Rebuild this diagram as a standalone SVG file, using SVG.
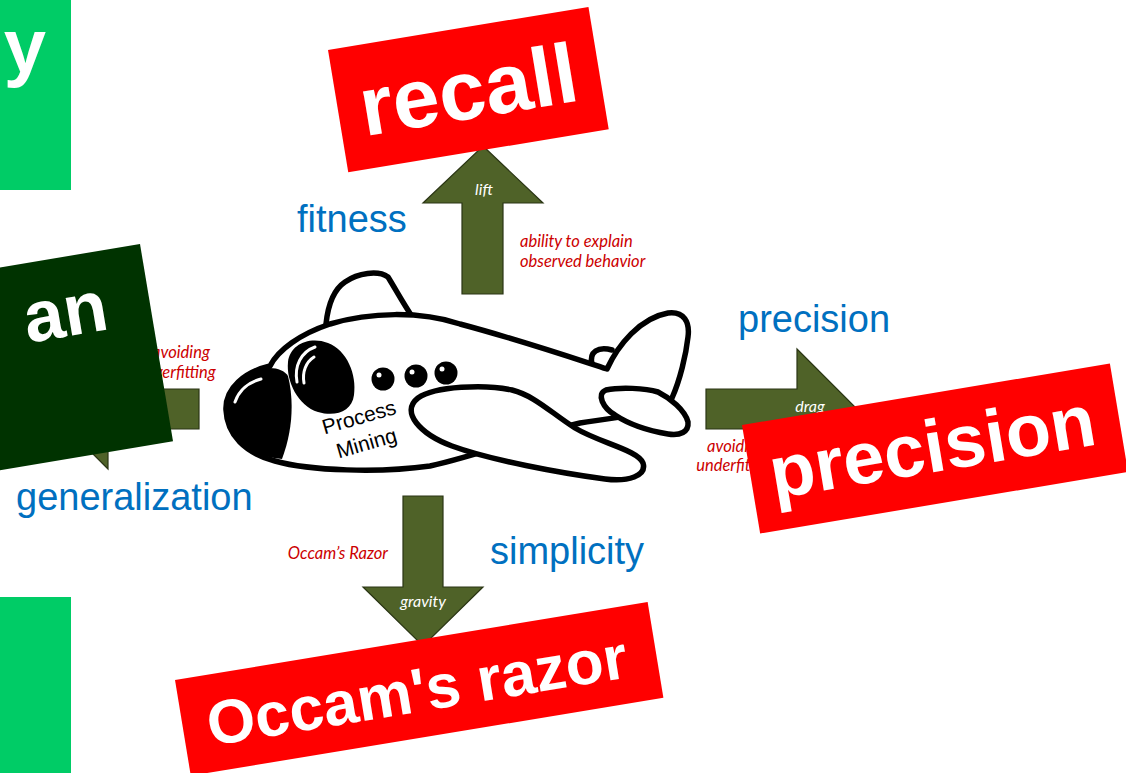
<svg xmlns="http://www.w3.org/2000/svg" width="1126" height="773" viewBox="0 0 1126 773">
  <style>
    .arrow { fill: #4F6228; stroke: #2A3514; stroke-width: 1.2; }
    .force { font-family: Lato, "Open Sans", sans-serif; font-style: italic; font-size: 16px; fill: #FFFFFF; text-anchor: middle; }
    .note { font-family: Lato, "Open Sans", sans-serif; font-style: italic; font-size: 16.5px; fill: #CC0000; }
    .dim { font-family: "Liberation Sans", Arial, sans-serif; font-size: 38px; fill: #0070C0; }
    .big { font-family: "Liberation Sans", Arial, sans-serif; font-weight: bold; fill: #FFFFFF; }
    .ink { stroke: #000000; stroke-width: 5.5; stroke-linejoin: round; stroke-linecap: round; }
    .shine { fill: none; stroke: #FFFFFF; stroke-width: 3; stroke-linecap: round; }
  </style>

  <rect width="1126" height="773" fill="#FFFFFF"/>

  <!-- force arrows around the plane -->
  <g id="connectors">
    <g id="lift">
      <polygon class="arrow" points="483,146 543,203 503,203 503,294 462,294 462,203 423,203"/>
      <text class="force" x="484" y="195">lift</text>
    </g>
    <g id="drag">
      <polygon class="arrow" points="706,389 797,389 797,349 857,409 797,469 797,429 706,429"/>
      <text class="force" x="810" y="412">drag</text>
    </g>
    <g id="thrust">
      <polygon class="arrow" points="199,389 108,389 108,349 48,409 108,469 108,429 199,429"/>
    </g>
    <g id="gravity">
      <polygon class="arrow" points="403,496 443,496 443,587 483,587 423,646 363,587 403,587"/>
      <text class="force" x="423" y="607">gravity</text>
    </g>
  </g>

  <!-- explanations next to the arrows -->
  <g id="notes">
    <text class="note" x="520" y="247">ability to explain</text>
    <text class="note" x="520" y="267">observed behavior</text>
    <text class="note" x="181" y="358" text-anchor="middle">avoiding</text>
    <text class="note" x="181" y="378" text-anchor="middle">overfitting</text>
    <text class="note" x="736" y="452" text-anchor="middle">avoiding</text>
    <text class="note" x="736" y="471" text-anchor="middle">underfitting</text>
    <text class="note" x="388" y="559" text-anchor="end">Occam’s Razor</text>
  </g>

  <!-- quality dimensions -->
  <g id="dimensions">
    <text class="dim" x="297" y="232">fitness</text>
    <text class="dim" x="738" y="332">precision</text>
    <text class="dim" x="16" y="510">generalization</text>
    <text class="dim" x="490" y="564">simplicity</text>
  </g>

  <!-- the plane -->
  <g id="plane">
    <path class="ink" fill="#FFFFFF" d="M326,324 C328,305 333,290 345,282 C358,273 378,270 388,277 C396,290 403,303 413,318"/>
    <path class="ink" fill="#FFFFFF" d="M592,364 C589,352 598,346 612,350"/>
    <path class="ink" fill="#FFFFFF" d="M226,410 C225,388 245,372 270,366 C278,350 300,334 330,324 C370,312 420,311 460,324 C520,340 570,357 607,369 C618,345 640,318 668,313 C684,311 690,322 688,337 C686,355 680,380 672,398 L665,410 C640,415 610,418 580,423 C540,432 480,455 430,466 C380,473 310,471 275,461 C245,453 227,435 226,410 Z"/>
    <path class="ink" fill="#FFFFFF" d="M606,390 C620,387 645,388 658,392 C670,398 685,410 688,422 C689,432 680,436 668,434 C650,431 630,425 615,415 C603,408 596,394 606,390 Z"/>
    <path class="ink" fill="#FFFFFF" d="M418,398 C435,386 485,384 512,390 C535,396 550,412 575,428 C600,443 638,450 643,463 C647,476 628,482 605,479 C560,473 490,460 452,446 C420,434 400,412 418,398 Z"/>
    <!-- nose cone -->
    <path fill="#000000" d="M288,376 C294,400 293,430 282,459 C250,456 227,440 225,412 C224,388 245,370 270,368 C278,368 285,371 288,376 Z"/>
    <path class="shine" d="M235,402 C239,390 249,382 261,379"/>
    <!-- cockpit -->
    <path fill="#000000" d="M288,362 C290,344 310,336 328,343 C347,350 357,375 354,395 C352,412 335,417 318,412 C298,406 286,381 288,362 Z"/>
    <path class="shine" d="M297,382 C294,366 301,352 315,347"/>
    <path class="shine" stroke-width="1.5" d="M304,383 C302,372 306,362 314,357"/>
    <!-- windows -->
    <circle cx="383" cy="379" r="11.5" fill="#000000"/>
    <circle cx="416" cy="376" r="11.5" fill="#000000"/>
    <circle cx="446" cy="373" r="11.5" fill="#000000"/>
    <circle cx="379" cy="375" r="2.5" fill="#FFFFFF"/>
    <circle cx="412" cy="372" r="2.5" fill="#FFFFFF"/>
    <circle cx="442" cy="369" r="2.5" fill="#FFFFFF"/>
    <g transform="translate(361,424) rotate(-16)" font-family="'Liberation Sans', Arial, sans-serif" font-size="21" text-anchor="middle" fill="#000000">
      <text x="0" y="0">Process</text>
      <text x="0" y="27">Mining</text>
    </g>
  </g>

  <!-- word boxes laid over the figure -->
  <g id="box-top-left">
    <rect x="0" y="0" width="71" height="190" fill="#00CC66"/>
    <text class="big" x="46" y="72" font-size="76" text-anchor="end">ny</text>
  </g>
  <g id="box-bottom-left">
    <rect x="0" y="597" width="71" height="176" fill="#00CC66"/>
  </g>
  <g id="box-an" transform="translate(140,244) rotate(-9.5)">
    <rect x="-320" y="0" width="320" height="200" fill="#003300"/>
    <text class="big" x="-43" y="79" font-size="72" text-anchor="end">an</text>
  </g>
  <g id="box-recall" transform="translate(328,50) rotate(-9.4)">
    <rect x="0" y="0" width="264" height="124" fill="#FF0000"/>
    <text class="big" x="132" y="91" font-size="84" text-anchor="middle">recall</text>
  </g>
  <g id="box-precision" transform="translate(742,425) rotate(-9.5)">
    <rect x="0" y="0" width="373" height="110" fill="#FF0000"/>
    <text class="big" x="184" y="78" font-size="74" text-anchor="middle">precision</text>
  </g>
  <g id="box-occam" transform="translate(175,680) rotate(-9.36)">
    <rect x="0" y="0" width="479" height="97" fill="#FF0000"/>
    <text class="big" x="237" y="71" font-size="62" text-anchor="middle">Occam's razor</text>
  </g>
</svg>
